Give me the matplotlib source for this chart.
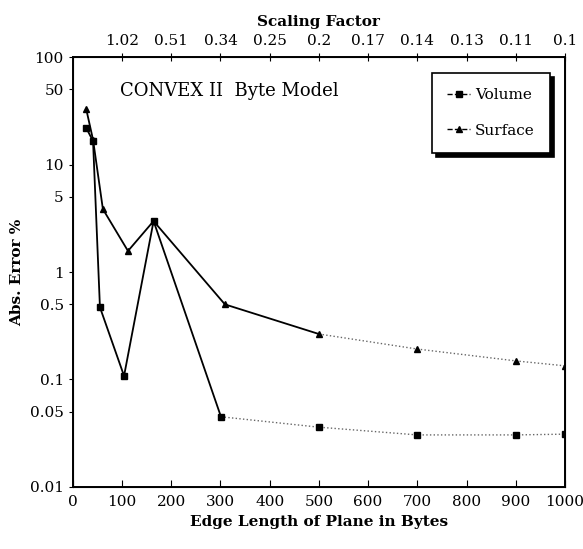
import numpy as np
import matplotlib
matplotlib.use("Agg")
import matplotlib.pyplot as plt
from matplotlib.lines import Line2D

# values
vol_x = [27, 41, 55, 104, 164, 301, 500, 700, 900, 1000]
vol_err = [22, 16.5, 0.47, 0.108, 2.98, 0.045, 0.036, 0.0305, 0.0305, 0.031]
surf_x = [27, 41, 61, 112, 164, 309, 500, 700, 900, 1000]
surf_err = [33, 17, 3.85, 1.57, 2.98, 0.50, 0.265, 0.192, 0.149, 0.134]

x_ticks = [0, 100, 200, 300, 400, 500, 600, 700, 800, 900, 1000]
y_ticks = [100, 50, 10, 5, 1, 0.5, 0.1, 0.05, 0.01]
y_labels = ["100", "50", "10", "5", "1", "0.5", "0.1", "0.05", "0.01"]
top_ticks = [100, 200, 300, 400, 500, 600, 700, 800, 900, 1000]
top_labels = ["1.02", "0.51", "0.34", "0.25", "0.2", "0.17", "0.14", "0.13", "0.11", "0.1"]

plt.rcParams['font.family'] = ['DejaVu Serif']

fig = plt.figure(figsize=(5.83, 5.49), dpi=100)
ax = fig.add_axes([0.125, 0.113, 0.844, 0.783])

# solid part then dotted tail
nv = 6
ns = 7
ax.plot(vol_x[:nv], vol_err[:nv], '-', color='black', lw=1.3)
ax.plot(vol_x[nv - 1:], vol_err[nv - 1:], ':', color='black', lw=1.0, alpha=0.6)
ax.plot(vol_x, vol_err, 's', color='black', ms=5, ls='none')

ax.plot(surf_x[:ns], surf_err[:ns], '-', color='black', lw=1.3)
ax.plot(surf_x[ns - 1:], surf_err[ns - 1:], ':', color='black', lw=1.0, alpha=0.6)
ax.plot(surf_x, surf_err, '^', color='black', ms=5, ls='none')

ax.set_yscale('log')
ax.set_xlim(0, 1000)
ax.set_ylim(0.01, 100)
ax.set_yticks(y_ticks)
ax.set_yticklabels(y_labels)
ax.yaxis.set_minor_locator(matplotlib.ticker.NullLocator())
ax.set_xticks(x_ticks)
ax.tick_params(axis='x', direction='in', length=5, labelsize=11, pad=6)
ax.tick_params(axis='y', direction='out', length=3, labelsize=11)
for s in ax.spines.values():
    s.set_linewidth(1.4)

ax.set_xlabel("Edge Length of Plane in Bytes", fontsize=11, fontweight='bold')
ax.set_ylabel("Abs. Error %", fontsize=11, fontweight='bold', labelpad=4)

top = ax.twiny()
top.set_xlim(0, 1000)
top.set_xticks(top_ticks)
top.set_xticklabels(top_labels)
top.tick_params(axis='x', direction='inout', length=6, labelsize=11)
top.set_xlabel("Scaling Factor", fontsize=11, fontweight='bold', labelpad=6)

ax.text(0.096, 0.92, "CONVEX II  Byte Model", transform=ax.transAxes,
        fontsize=13, va='center', ha='left')

handles = [Line2D([], [], color='black', ls='--', marker='s', ms=4, lw=1),
           Line2D([], [], color='black', ls='--', marker='^', ms=4, lw=1)]
leg = ax.legend(handles, ["Volume", "Surface"], loc='upper left',
                bbox_to_anchor=(0.73, 0.963), borderaxespad=0, fontsize=11,
                handlelength=1.5, handletextpad=0.3, labelspacing=1.4,
                borderpad=1.0, fancybox=False, edgecolor='black',
                shadow={'ox': 3, 'oy': -3, 'color': 'black', 'alpha': 1})
leg.get_frame().set_linewidth(1.2)

fig.savefig("out.png", dpi=100)
